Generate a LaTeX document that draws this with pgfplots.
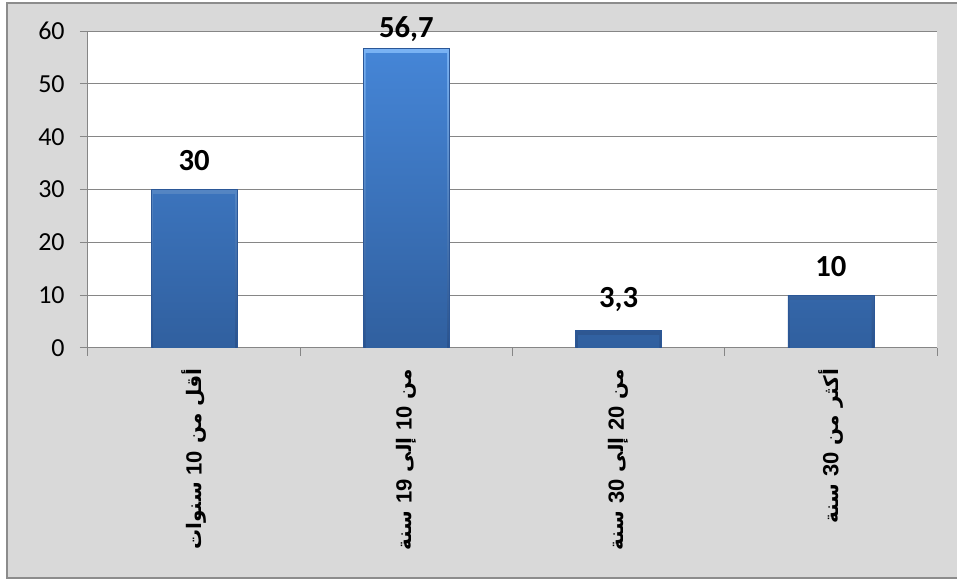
\documentclass[border=0pt]{standalone}
\usepackage{pgfplots}
\pgfplotsset{compat=1.18}
\usepackage{fontspec}
\setmainfont{Carlito}
\newfontfamily\arabicfont[Script=Arabic]{DejaVu Sans}
\newfontfamily\numfont{Liberation Sans}
\TeXXeTstate=1

\definecolor{framegray}{HTML}{D9D9D9}
\definecolor{framerule}{HTML}{8C8C8C}
\definecolor{gridgray}{HTML}{868686}
\definecolor{barline}{HTML}{2B5797}
\definecolor{bartop}{HTML}{4585D6}
\definecolor{barbottom}{HTML}{305F9E}
\definecolor{bevellight}{HTML}{7AB3F4}
\definecolor{beveldark}{HTML}{2A528C}

\newcommand{\arf}{\arabicfont\bfseries}
\newcommand{\nm}[1]{{\numfont\bfseries\fontsize{16.5}{18}\selectfont #1}}

% value, and how far its label sits above the bar (pt)
\pgfplotstableread{
x y lift
0 30 10.5
1 56.7 1.5
2 3.3 10.5
3 10 10.5
}\shares

\begin{document}
\begin{tikzpicture}
% page and chart-area frame
\useasboundingbox (-66pt,-174.75pt) rectangle (651.75pt,261pt);
\fill[white] (-66pt,-174.75pt) rectangle (651.75pt,261pt);
\draw[framerule, line width=1.5pt, fill=framegray] (-60.75pt,-172.5pt) rectangle (670pt,258.75pt);
\begin{axis}[
  at={(0pt,0pt)}, anchor=south west,
  scale only axis, width=636.75pt, height=237.75pt,
  axis background/.style={fill=white},
  xmin=-0.5, xmax=3.5, ymin=0, ymax=60,
  axis x line*=bottom, axis y line*=left,
  axis line style={gridgray, line width=0.75pt},
  ytick={0,10,...,60},
  ymajorgrids, grid style={gridgray, line width=0.75pt},
  tick align=outside, major tick length=6pt,
  tick style={gridgray, line width=0.75pt},
  xtick={-0.5,0.5,1.5,2.5,3.5}, xticklabels={},
  extra x ticks={0,1,2,3},
  extra x tick labels={
    {\arf\beginR أقل من \nm{10} سنوات\endR},
    {\arf\beginR من \nm{10} إلى \nm{19} سنة\endR},
    {\arf\beginR من \nm{20} إلى \nm{30} سنة\endR},
    {\arf\beginR أكثر من \nm{30} سنة\endR}},
  extra x tick style={major tick length=0pt, grid=none,
    tick label style={yshift=-12pt, rotate=90, anchor=east, font=\fontsize{15}{17}\selectfont, text=black}},
  yticklabel style={font=\fontsize{19.5}{21}\selectfont, text=black, xshift=-8pt},
  /pgf/number format/assume math mode=true,
  /pgf/number format/.cd, fixed, precision=1, use comma,
  /pgfplots/.cd,
  ybar, bar shift=0pt,
]
% outer bar: bevel rim
\addplot[bar width=0.405, bar shift=0pt, draw=barline, line width=0.4pt,
  top color=bevellight, bottom color=beveldark,
  visualization depends on={\thisrow{lift} \as \lift},
  nodes near coords,
  nodes near coords style={font=\fontsize{23}{25}\selectfont\bfseries, text=black, yshift=\lift pt}]
  table[x=x, y=y] {\shares};
% inner face of each bar
\addplot[bar width=0.383, bar shift=0pt, draw=none, yshift=-3.5pt,
  top color=bartop, bottom color=barbottom]
  table[x=x, y=y] {\shares};
\end{axis}
\end{tikzpicture}
\end{document}
